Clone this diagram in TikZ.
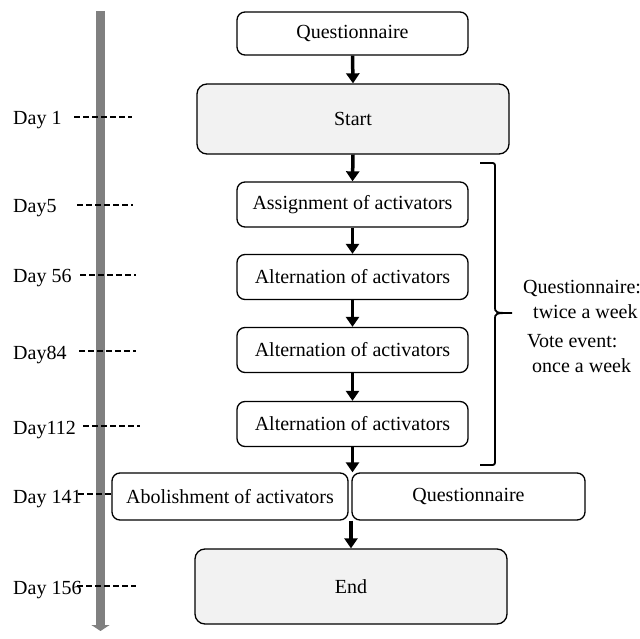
\documentclass[tikz,border=0pt]{standalone}
\usepackage{fontspec}
\setmainfont{Liberation Serif}
\usetikzlibrary{arrows.meta}

\tikzset{
    smallbox/.style={draw, line width=1.3pt, rounded corners=8pt, minimum height=45pt, inner sep=0pt},
    bigbox/.style={smallbox, fill=black!5, rounded corners=10pt, minimum width=312pt},
    flow/.style={line width=3.5pt, -{Triangle[width=13pt,length=10pt]}},
    daytick/.style={line width=1.8pt, dash pattern=on 6pt off 3pt},
    daylabel/.style={anchor=base west, inner sep=0pt},
    note/.style={anchor=base west, inner sep=0pt},
}

\begin{document}
\begin{tikzpicture}[x=1pt, y=-1pt, font=\fontsize{20}{24}\selectfont]
    \useasboundingbox (0,0) rectangle (640,639);

    % Time axis
    \draw[line width=9pt, black!50, -{Triangle[width=18pt,length=6pt]}] (100.5,11) -- (100.5,631);

    % Day marks
    \node[daylabel] (day1) at (13,125) {Day 1};
    \draw[daytick] (74,117) -- (132,117);
    \node[daylabel] (day5) at (13,213) {Day5};
    \draw[daytick] (77,205) -- (133,205);
    \node[daylabel] (day56) at (13,283) {Day 56};
    \draw[daytick] (80,275) -- (136,275);
    \node[daylabel] (day84) at (13,359) {Day84};
    \draw[daytick] (79,351) -- (136,351);
    \node[daylabel] (day112) at (13,434) {Day112};
    \draw[daytick] (83,426) -- (140,426);
    \node[daylabel] (day141) at (13,503) {Day 141};
    \draw[daytick] (78,494) -- (111,494);
    \node[daylabel] (day156) at (13,594) {Day 156};
    \draw[daytick] (77,586) -- (136,586);

    % Flow boxes
    \node[smallbox, minimum width=231pt, minimum height=43pt] (quest) at (352.5,33.5) {Questionnaire};
    \node[bigbox, minimum height=70pt] (start) at (353,119) {Start};
    \node[smallbox, minimum width=231pt] (assign) at (352.5,204.5) {Assignment of activators};
    \node[smallbox, minimum width=231pt] (alt1) at (352.5,277) {Alternation of activators};
    \node[smallbox, minimum width=231pt] (alt2) at (352.5,350) {Alternation of activators};
    \node[smallbox, minimum width=231pt] (alt3) at (352.5,424) {Alternation of activators};
    \node[smallbox, minimum width=236pt, minimum height=47pt] (abol) at (230,496.5) {Abolishment of activators};
    \node[smallbox, minimum width=233pt, minimum height=47pt] (questb) at (468.5,496.5) {Questionnaire};
    \node[bigbox, minimum height=75pt] (end) at (351,586.5) {End};

    % Arrows
    \draw[flow] (quest.south) -- (start.north);
    \draw[flow] (start.south) -- (assign.north);
    \draw[flow] (assign.south) -- (alt1.north);
    \draw[flow] (alt1.south) -- (alt2.north);
    \draw[flow] (alt2.south) -- (alt3.north);
    \draw[flow] (alt3.south) -- (alt3.south |- abol.north);
    \draw[flow] (end.north |- abol.south) -- (end.north);

    % Brace and note
    \draw[line width=1.8pt] (480,163) -- (490,163) .. controls (495,163) .. (495,168)
        -- (495,306) .. controls (495,313) .. (512,313)
        .. controls (495,313) .. (495,320) -- (495,460)
        .. controls (495,465) .. (490,465) -- (480,465);
    \node[note] (qnote) at (523,294) {Questionnaire:};
    \node[note] (qfreq) at (533,318) {twice a week};
    \node[note] (vnote) at (527,347) {Vote event:};
    \node[note] (vfreq) at (532,372) {once a week};

\end{tikzpicture}
\end{document}
